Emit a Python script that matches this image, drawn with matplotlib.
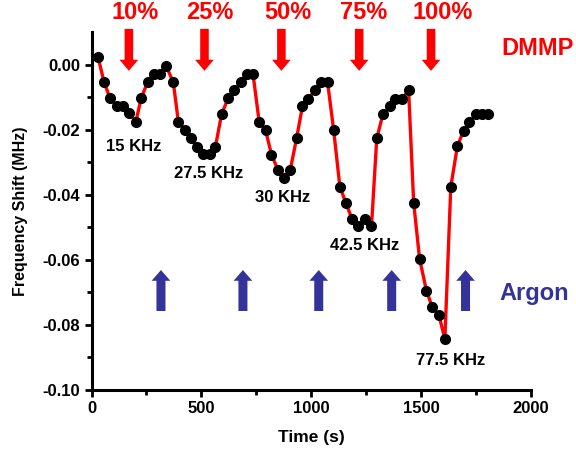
import matplotlib
matplotlib.use("Agg")
import matplotlib.pyplot as plt
from matplotlib.patches import FancyArrow

plt.rcParams['font.family'] = ['Liberation Sans', 'DejaVu Sans']
plt.rcParams['font.weight'] = 'bold'

# Data
time_s = [30, 57, 84, 115, 142, 172, 202, 226, 255, 284, 311, 339,
          372, 395, 425, 451, 478, 508, 539, 564, 592, 622, 649, 680, 708, 735,
          763, 792, 819, 849, 874, 904, 933, 960, 987, 1017, 1045, 1074,
          1102, 1130, 1157, 1185, 1214, 1243, 1274, 1298, 1326, 1357, 1383, 1413, 1443,
          1466, 1493, 1524, 1551, 1581, 1608, 1635, 1665, 1693, 1720, 1751, 1776, 1804]
shift_mhz = [0.0024, -0.0053, -0.0102, -0.0126, -0.0126, -0.0149, -0.0174, -0.0102, -0.0053, -0.0029, -0.0029, -0.0002,
             -0.0053, -0.0174, -0.0200, -0.0224, -0.0251, -0.0275, -0.0275, -0.0251, -0.0151, -0.0102, -0.0077, -0.0053, -0.0029, -0.0029,
             -0.0175, -0.0201, -0.0276, -0.0324, -0.0349, -0.0324, -0.0226, -0.0127, -0.0104, -0.0078, -0.0052, -0.0052,
             -0.0201, -0.0374, -0.0424, -0.0473, -0.0497, -0.0473, -0.0497, -0.0226, -0.0152, -0.0127, -0.0104, -0.0104, -0.0078,
             -0.0424, -0.0597, -0.0694, -0.0746, -0.0770, -0.0843, -0.0374, -0.0250, -0.0202, -0.0176, -0.0152, -0.0152, -0.0152]

freq_labels = ["15 KHz", "27.5 KHz", "30 KHz", "42.5 KHz", "77.5 KHz"]
freq_label_t = [193, 532, 868, 1243, 1636]
freq_label_y = [-0.0252, -0.0335, -0.0408, -0.0554, -0.0908]

conc_labels = ["10%", "25%", "50%", "75%", "100%"]
conc_label_t = [200, 539, 893, 1239, 1600]
dmmp_arrow_t = [170, 514, 864, 1218, 1545]
argon_arrow_t = [316, 689, 1034, 1366, 1702]

xticks = [0, 500, 1000, 1500, 2000]
yticks = [0.00, -0.02, -0.04, -0.06, -0.08, -0.10]

RED = '#FF0000'
BLUE = '#333399'

fig = plt.figure(figsize=(5.76, 4.54), dpi=100)
ax = fig.add_axes([0.1589, 0.141, 0.763, 0.7875])

ax.plot(time_s, shift_mhz, color=RED, lw=2.4, marker='o', markersize=7,
        markerfacecolor='black', markeredgecolor='black', zorder=3)

ax.set_xlim(0, 2000)
ax.set_ylim(-0.10, 0.01)
ax.set_xticks(xticks)
ax.set_xticklabels([str(v) for v in xticks])
ax.set_yticks(yticks)
ax.set_yticklabels(['%.2f' % v if v != 0 else '0.00' for v in yticks])
ax.set_xticks(range(250, 2000, 500), minor=True)
ax.set_yticks([-0.09, -0.07, -0.05, -0.03, -0.01], minor=True)

for s in ['top', 'right']:
    ax.spines[s].set_visible(False)
for s in ['left', 'bottom']:
    ax.spines[s].set_linewidth(2.2)
ax.tick_params(which='major', direction='out', length=5, width=2, labelsize=12, pad=3)
ax.tick_params(which='minor', direction='out', length=3.5, width=2)
for lab in ax.get_xticklabels() + ax.get_yticklabels():
    lab.set_fontweight('bold')

ax.set_xlabel('Time (s)', fontsize=12.5, fontweight='bold', labelpad=10)
ax.set_ylabel('Frequency Shift (MHz)', fontsize=11.5, fontweight='bold', labelpad=11)

for lab, t, y in zip(freq_labels, freq_label_t, freq_label_y):
    ax.text(t, y, lab, ha='center', va='center', fontsize=12, fontweight='bold', color='black')

for lab, t in zip(conc_labels, conc_label_t):
    ax.text(t, 0.0162, lab, ha='center', va='center', fontsize=17, fontweight='bold',
            color=RED, clip_on=False)

for t in dmmp_arrow_t:
    ax.add_patch(FancyArrow(t, 0.0111, 0, -0.0129, width=39, head_width=85,
                            head_length=0.0034, length_includes_head=True,
                            color=RED, lw=0, clip_on=False, zorder=4))

for t in argon_arrow_t:
    ax.add_patch(FancyArrow(t, -0.0757, 0, 0.0126, width=41, head_width=85,
                            head_length=0.0033, length_includes_head=True,
                            color=BLUE, lw=0, clip_on=False, zorder=4))

ax.text(2030, 0.0052, 'DMMP', ha='center', va='center', fontsize=17, fontweight='bold',
        color=RED, clip_on=False)
ax.text(2016, -0.0702, 'Argon', ha='center', va='center', fontsize=17, fontweight='bold',
        color=BLUE, clip_on=False)

fig.savefig('out.png', dpi=100)
